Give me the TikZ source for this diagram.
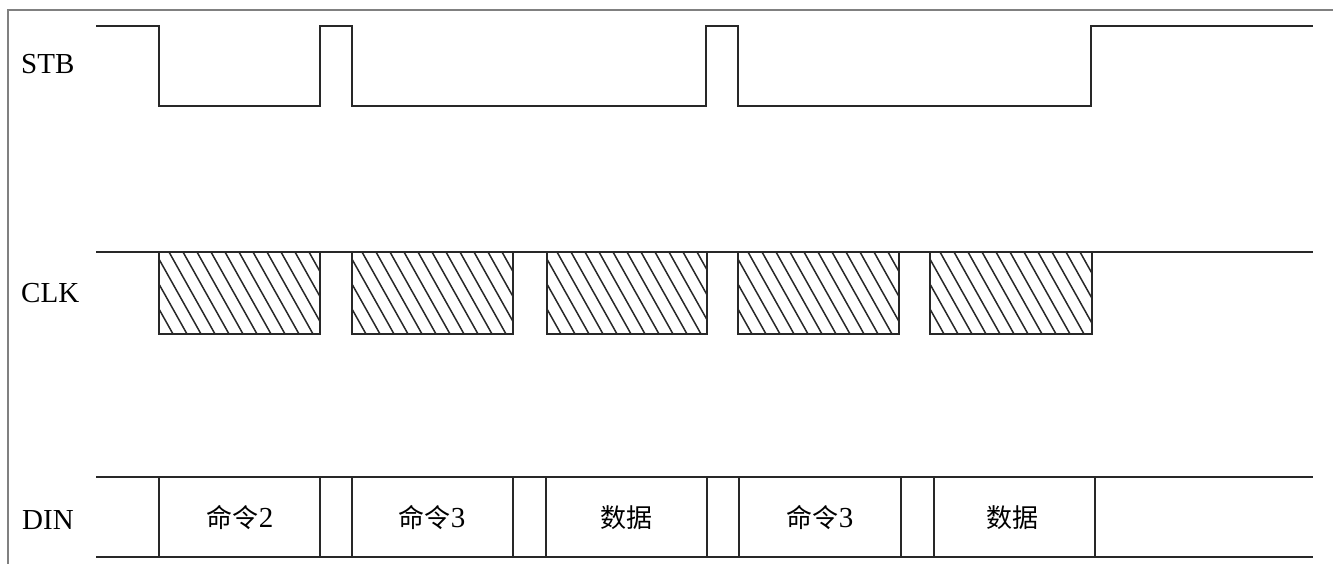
\documentclass[tikz,border=0pt]{standalone}
\usepackage{fontspec}
\setmainfont{Liberation Serif}
\newfontfamily\cjk{Noto Sans CJK SC}
\usepackage{tikz}
\definecolor{wave}{RGB}{40,40,40}
\definecolor{frame}{RGB}{128,128,128}
\newcommand{\drawwave}{\draw[wave,line width=2pt]}
\newcommand{\hatchbox}[2]{
    \begin{scope}
    \clip (#1,252) rectangle (#2,334);
    \foreach \c in {-60,-46,...,170}{
      \draw[wave,line width=1.5pt] (#1+\c,252)--++(46,82);
    }
    \end{scope}
    \drawwave (#1,252) rectangle (#2,334);
}

\begin{document}
\begin{tikzpicture}[x=1pt,y=-1pt,
  sig/.style={font=\fontsize{29}{29}\selectfont,anchor=west,inner sep=0pt},
  cell/.style={font=\fontsize{29}{29}\selectfont,inner sep=0pt}]
\useasboundingbox (0,0) rectangle (1333,564);
\draw[frame,line width=2.5pt] (8,564)--(8,10)--(1333,10);
% STB
\node[sig] (stb) at (21,64) {STB};
\drawwave (96,26)--(159,26)--(159,106)--(320,106)--(320,26)--(352,26)--(352,106)--(706,106)--(706,26)--(738,26)--(738,106)--(1091,106)--(1091,26)--(1313,26);
% CLK
\node[sig] (clk) at (21,293) {CLK};
\drawwave (96,252)--(1313,252);
\hatchbox{159}{320}\hatchbox{352}{513}\hatchbox{547}{707}\hatchbox{738}{899}\hatchbox{930}{1092}
% DIN
\node[sig] (din) at (22,520) {DIN};
\drawwave (96,477)--(1313,477);
\drawwave (96,557)--(1313,557);
\foreach \x in {159,320,352,513,546,707,739,901,934,1095}{
  \drawwave (\x,477)--(\x,557);
}
\node[cell] (cmda) at (240,518) {{\cjk\fontsize{26}{26}\selectfont 命令}2};
\node[cell] (cmdb) at (432,518) {{\cjk\fontsize{26}{26}\selectfont 命令}3};
\node[cell] (data) at (626,518) {{\cjk\fontsize{26}{26}\selectfont 数据}};
\node[cell] (cmdc) at (820,518) {{\cjk\fontsize{26}{26}\selectfont 命令}3};
\node[cell] (datb) at (1012,518) {{\cjk\fontsize{26}{26}\selectfont 数据}};
\end{tikzpicture}
\end{document}
